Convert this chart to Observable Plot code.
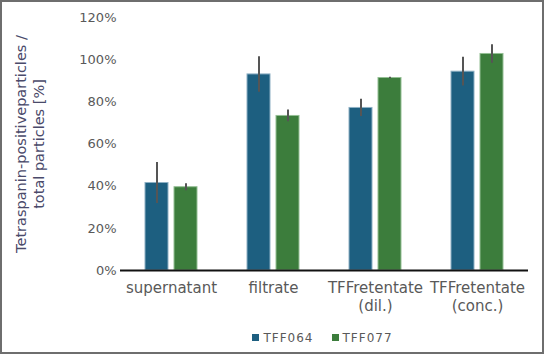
<!DOCTYPE html>
<html>
<head>
<meta charset="utf-8">
<script src="https://cdn.jsdelivr.net/npm/d3@7"></script>
<script src="https://cdn.jsdelivr.net/npm/@observablehq/plot@0.6"></script>
<style>
  body { margin: 0; background: #fff; }
  #wrap { position: relative; width: 545px; height: 355px; overflow: hidden; font-family: "DejaVu Sans", sans-serif; }
  #frame { position: absolute; left: 0; top: 0; width: 544px; height: 354px; box-sizing: border-box; border: 2px solid #6e6e6e; pointer-events: none; }
  #chart { position: absolute; left: 0; top: 0; }
  #legend { position: absolute; left: 0; width: 545px; top: 331px; text-align: center; font-size: 12px; color: #595959; letter-spacing: 1px; padding-left: 100px; box-sizing: border-box; }
  #legend span.item { margin: 0 9px; white-space: nowrap; }
  #legend span.sw { display: inline-block; width: 7px; height: 7px; margin-right: 4px; vertical-align: 1px; }
</style>
</head>
<body>
<div id="wrap">
  <div id="chart"></div>
  <div id="legend"></div>
  <div id="frame"></div>
</div>
<script>
const categories = ["supernatant", "filtrate", "TFFretentate\n(dil.)", "TFFretentate\n(conc.)"];
const series = ["TFF064", "TFF077"];
const tff064 = [41.5, 93.0, 77.1, 94.3];
const tff064Err = [9.7, 8.4, 4.1, 6.8];
const tff077 = [39.5, 73.3, 91.3, 102.7];
const tff077Err = [1.7, 2.8, 0.4, 4.4];
const yTicks = [0, 20, 40, 60, 80, 100, 120];
const yLabel = "Tetraspanin-positiveparticles /\ntotal particles [%]";
const colors = ["#1d5f80", "#3c7d3c"];
const strokes = ["#8db0c4", "#94bf94"];

const rows = [];
categories.forEach((c, i) => {
  rows.push({category: c, series: series[0], value: tff064[i], err: tff064Err[i]});
  rows.push({category: c, series: series[1], value: tff077[i], err: tff077Err[i]});
});

const chart = Plot.plot({
  width: 545,
  height: 320,
  marginTop: 17,
  marginBottom: 50,
  marginLeft: 120,
  marginRight: 17,
  style: {fontFamily: "DejaVu Sans, sans-serif", color: "#595959", background: "transparent"},
  fx: {domain: categories, padding: 0, label: null},
  x: {domain: series, paddingInner: 0.21, paddingOuter: 0.86, axis: null},
  y: {domain: [0, 120], label: null},
  color: {domain: series, range: colors},
  marks: [
    Plot.axisY({ticks: yTicks, tickSize: 0, tickPadding: 4, tickFormat: d => d + "%", fontSize: 13, label: null}),
    Plot.axisFx({anchor: "bottom", tickSize: 0, tickPadding: 10, fontSize: 15, lineHeight: 1.2, label: null}),
    Plot.barY(rows, {fx: "category", x: "series", y: "value", fill: "series",
      stroke: d => strokes[series.indexOf(d.series)], strokeWidth: 1}),
    Plot.ruleX(rows, {fx: "category", x: "series", y1: d => d.value - d.err, y2: d => d.value + d.err,
      stroke: "#555555", strokeWidth: 2}),
    Plot.ruleY([0], {stroke: "#111111", strokeWidth: 2}),
    Plot.text([yLabel], {frameAnchor: "left", textAnchor: "middle", dx: -91, rotate: -90, fontSize: 14.5, fill: "#4a4a6a", lineHeight: 1.25, facet: "super"})
  ]
});
document.getElementById("chart").appendChild(chart);

const legend = document.getElementById("legend");
series.forEach((s, i) => {
  const item = document.createElement("span");
  item.className = "item";
  const sw = document.createElement("span");
  sw.className = "sw";
  sw.style.background = colors[i];
  item.appendChild(sw);
  item.appendChild(document.createTextNode(s));
  legend.appendChild(item);
});
</script>
</body>
</html>
